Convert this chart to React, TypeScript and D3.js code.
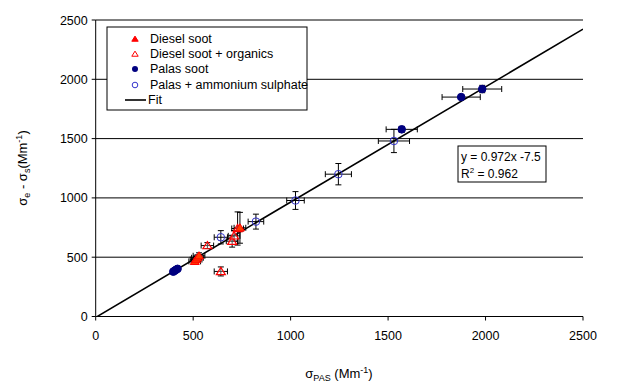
import React from "react";
import * as d3 from "d3";

const W = 627, H = 385;

const xTicks = [0, 500, 1000, 1500, 2000, 2500];
const yTicks = [0, 500, 1000, 1500, 2000, 2500];

// Diesel soot (filled triangles)
const dieselX = [508, 515, 522, 530, 740];
const dieselY = [465, 480, 495, 512, 748];
const dieselXErr = [30, 30, 30, 30, 30];
const dieselYErr = [25, 25, 25, 25, 130];

// Diesel soot + organics (open triangles)
const orgX = [573, 642, 700, 710, 728];
const orgY = [598, 380, 635, 680, 742];
const orgXErr = [32, 34, 30, 30, 30];
const orgYErr = [25, 38, 50, 45, 140];

// Palas soot (filled circles)
const palasX = [398, 405, 412, 420, 1570, 1875, 1983];
const palasY = [378, 386, 394, 402, 1578, 1850, 1918];
const palasXErr = [10, 10, 10, 10, 80, 98, 100];
const palasYErr = [10, 10, 10, 10, 25, 20, 31];

// Palas + ammonium sulphate (open circles)
const pasX = [642, 822, 1025, 1245, 1530];
const pasY = [668, 800, 978, 1200, 1480];
const pasXErr = [34, 40, 45, 67, 80];
const pasYErr = [56, 63, 75, 90, 98];

const fitSlope = 0.972;
const fitIntercept = -7.5;

const legendLabels = ["Diesel soot", "Diesel soot + organics", "Palas soot", "Palas + ammonium sulphate", "Fit"];

const FONT = "Liberation Sans, Arial, sans-serif";
const RED = "#ff0000";
const ORANGE = "#ff4000";
const NAVY = "#000080";

export default function App() {
  const x = d3.scaleLinear().domain([0, 2500]).range([95.7, 583]);
  const y = d3.scaleLinear().domain([0, 2500]).range([316.5, 20]);

  const tri = (cx: number, cy: number, s: number) =>
    `M${cx},${cy - s * 0.9} L${cx + s},${cy + s * 0.7} L${cx - s},${cy + s * 0.7} Z`;

  const errBars = (xs: number[], ys: number[], xe: number[], ye: number[], key: string) =>
    xs.map((xv, i) => {
      const cx = x(xv), cy = y(ys[i]);
      const x0 = x(xv - xe[i]), x1 = x(xv + xe[i]);
      const y0 = y(ys[i] - ye[i]), y1 = y(ys[i] + ye[i]);
      return (
        <g key={key + i} stroke="#000" strokeWidth={1}>
          <line x1={x0} x2={x1} y1={cy} y2={cy} />
          <line x1={x0} x2={x0} y1={cy - 3} y2={cy + 3} />
          <line x1={x1} x2={x1} y1={cy - 3} y2={cy + 3} />
          <line x1={cx} x2={cx} y1={y0} y2={y1} />
          <line x1={cx - 3} x2={cx + 3} y1={y0} y2={y0} />
          <line x1={cx - 3} x2={cx + 3} y1={y1} y2={y1} />
        </g>
      );
    });

  const fitX0 = 0, fitX1 = 2500;
  const line = d3.line<number>().x((d) => x(d)).y((d) => y(fitSlope * d + fitIntercept));

  return (
    <svg width={W} height={H} style={{ position: "absolute", left: 0, top: 0, background: "#fff" }} fontFamily={FONT}>
      <defs>
        <clipPath id="plot">
          <rect x={x(0)} y={y(2500)} width={x(2500) - x(0)} height={y(0) - y(2500)} />
        </clipPath>
      </defs>
      {/* gridlines */}
      {yTicks.filter((t) => t > 0).map((t) => (
        <line key={"g" + t} x1={x(0)} x2={x(2500)} y1={y(t)} y2={y(t)} stroke="#000" strokeWidth={1} />
      ))}
      {/* axes */}
      <line x1={x(0)} x2={x(0)} y1={y(0)} y2={y(2500)} stroke="#000" />
      <line x1={x(0)} x2={x(2500)} y1={y(0)} y2={y(0)} stroke="#000" />
      {yTicks.map((t) => (
        <g key={"yt" + t}>
          <line x1={x(0) - 4} x2={x(0)} y1={y(t)} y2={y(t)} stroke="#000" />
          <text x={x(0) - 8} y={y(t) + 4.5} textAnchor="end" fontSize={12.5} fill="#000">{t}</text>
        </g>
      ))}
      {xTicks.map((t) => (
        <g key={"xt" + t}>
          <line x1={x(t)} x2={x(t)} y1={y(0)} y2={y(0) + 4} stroke="#000" />
          <text x={x(t)} y={y(0) + 23} textAnchor="middle" fontSize={12.5} fill="#000">{t}</text>
        </g>
      ))}
      {/* error bars */}
      {errBars(dieselX, dieselY, dieselXErr, dieselYErr, "de")}
      {errBars(orgX, orgY, orgXErr, orgYErr, "oe")}
      {errBars(palasX, palasY, palasXErr, palasYErr, "pe")}
      {errBars(pasX, pasY, pasXErr, pasYErr, "ae")}
      {/* fit line */}
      <path d={line([fitX0, fitX1]) || ""} stroke="#000" strokeWidth={1.6} fill="none" clipPath="url(#plot)" />
      {/* markers */}
      {pasX.map((v, i) => (
        <circle key={"a" + i} cx={x(v)} cy={y(pasY[i])} r={3.8} fill="none" stroke="#3333cc" strokeWidth={1} />
      ))}
      {palasX.map((v, i) => (
        <circle key={"p" + i} cx={x(v)} cy={y(palasY[i])} r={3.8} fill={NAVY} stroke={NAVY} />
      ))}
      {orgX.map((v, i) => (
        <path key={"o" + i} d={tri(x(v), y(orgY[i]), 4.5)} fill="#fff" fillOpacity={0.3} stroke={RED} strokeWidth={1.2} />
      ))}
      {dieselX.map((v, i) => (
        <path key={"d" + i} d={tri(x(v), y(dieselY[i]), 4.5)} fill={ORANGE} stroke={RED} strokeWidth={1} />
      ))}
      {/* legend */}
      <g>
        <rect x={107} y={27} width={200} height={83} fill="#fff" stroke="#000" strokeWidth={1} />
        <path d={tri(135, 39, 3.2)} fill={RED} stroke={RED} />
        <path d={tri(135, 54, 3.2)} fill="#fff" stroke={RED} strokeWidth={1} />
        <circle cx={135} cy={69} r={3} fill={NAVY} />
        <circle cx={135} cy={85} r={2.8} fill="none" stroke="#3333cc" />
        <line x1={125} x2={146} y1={100} y2={100} stroke="#000" strokeWidth={1.6} />
        {legendLabels.map((l, i) => (
          <text key={l} x={i === 4 ? 148 : 150} y={[43, 58, 73, 89, 104][i]} fontSize={12.5} fill="#000">{l}</text>
        ))}
      </g>
      {/* annotation */}
      <g>
        <rect x={458} y={146} width={88} height={36} fill="#fff" stroke="#000" strokeWidth={1} />
        <text x={461} y={161} fontSize={12} fill="#000">y = 0.972x -7.5</text>
        <text x={461} y={178} fontSize={12} fill="#000">
          R<tspan dy={-5} fontSize={8}>2</tspan><tspan dy={5}> = 0.962</tspan>
        </text>
      </g>
      {/* axis titles */}
      <text transform="translate(27,168) rotate(-90)" textAnchor="middle" fontSize={13} fill="#000">
        σ<tspan dy={3} fontSize={9}>e</tspan><tspan dy={-3}> - σ</tspan><tspan dy={3} fontSize={9}>s</tspan><tspan dy={-3}>(Mm</tspan><tspan dy={-5} fontSize={9}>-1</tspan><tspan dy={5}>)</tspan>
      </text>
      <text x={339} y={378} textAnchor="middle" fontSize={13} fill="#000">
        σ<tspan dy={3} fontSize={9}>PAS</tspan><tspan dy={-3}> (Mm</tspan><tspan dy={-5} fontSize={9}>-1</tspan><tspan dy={5}>)</tspan>
      </text>
    </svg>
  );
}
